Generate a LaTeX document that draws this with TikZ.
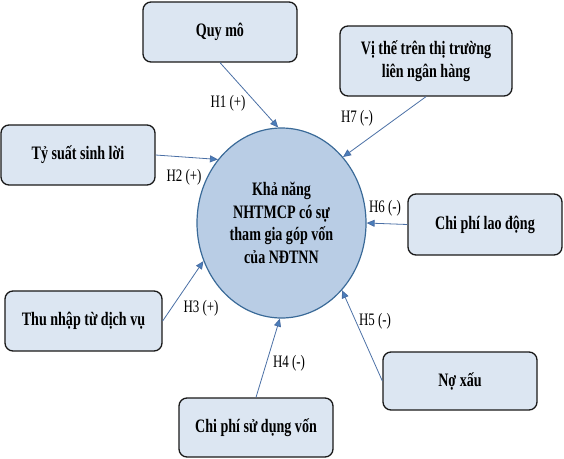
\documentclass[tikz,border=0pt]{standalone}
\usepackage{fontspec}
\setmainfont{Liberation Serif}[FakeStretch=0.74]
\usetikzlibrary{arrows.meta,shapes.geometric}
\definecolor{boxfill}{HTML}{DCE6F2}
\definecolor{circfill}{HTML}{B9CDE5}
\definecolor{circline}{HTML}{3A6A98}
\definecolor{conn}{HTML}{4A6FA5}
\definecolor{tipc}{HTML}{4A7EBB}
\tikzset{
  factor/.style={draw=black!90, line width=1.3pt, rounded corners=8pt, fill=boxfill,
    minimum width=154pt, minimum height=60pt, align=center, inner sep=0pt,
    font=\bfseries\fontsize{19}{23}\selectfont},
  centre/.style={ellipse, draw=circline, line width=1.2pt, fill=circfill,
    minimum width=169pt, minimum height=190pt, align=center, inner sep=0pt,
    font=\bfseries\fontsize{19}{22.5}\selectfont},
  link/.style={draw=conn, line width=0.8pt, -{Triangle[length=8pt,width=7pt,fill=tipc]}},
  hyp/.style={font=\fontsize{17.5}{20}\selectfont, inner sep=0pt}
}
\begin{document}
\begin{tikzpicture}[x=1pt,y=-1pt]
\useasboundingbox (0,0) rectangle (564,458);
\node[centre] (c) at (281.5,223) {Khả năng\\NHTMCP có sự\\tham gia góp vốn\\của NĐTNN};
\node[factor] (quy) at (220,32) {Quy mô};
\node[factor, minimum width=172pt, minimum height=70pt] (vithe) at (426,61) {Vị thế trên thị trường\\liên ngân hàng};
\node[factor] (tysuat) at (78,155) {Tỷ suất sinh lời};
\node[factor, minimum height=61pt] (laodong) at (485,224.5) {Chi phí lao động};
\node[factor, minimum width=157pt] (thunhap) at (83.5,321) {Thu nhập từ dịch vụ};
\node[factor, minimum height=59pt] (sudung) at (256,427.5) {Chi phí sử dụng vốn};
\node[factor, minimum height=58pt] (noxau) at (460,381) {Nợ xấu};
\draw[link] (quy.south) -- (c.92);
\draw[link] (vithe.south) -- (c.47);
\draw[link] (tysuat.east) -- (c.135);
\draw[link] (laodong.west) -- (c.east);
\draw[link] (thunhap.east) -- (c.206);
\draw[link] (sudung.north) -- (c.269);
\draw[link] (noxau.west) -- (c.312);
\node[hyp] (h1) at (228,103) {H1 (+)};
\node[hyp] (h7) at (357,118) {H7 (-)};
\node[hyp] (h2) at (184,177) {H2 (+)};
\node[hyp] (h6) at (385,208) {H6 (-)};
\node[hyp] (h3) at (201,308) {H3 (+)};
\node[hyp] (h4) at (289,363) {H4 (-)};
\node[hyp] (h5) at (375,321) {H5 (-)};
\end{tikzpicture}
\end{document}
